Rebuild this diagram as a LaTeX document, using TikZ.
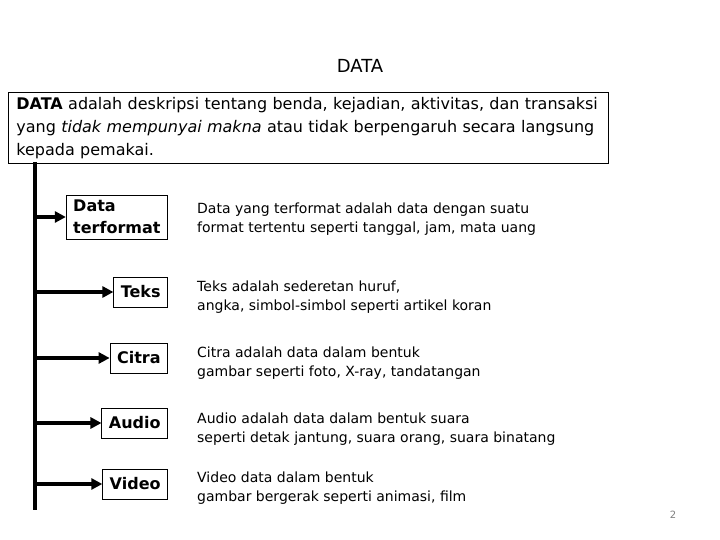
\documentclass[tikz,border=0pt]{standalone}
\usepackage{fontspec}
\setmainfont{DejaVu Sans}
\usetikzlibrary{arrows.meta}

\tikzset{
  kind/.style={draw, line width=0.8pt, inner xsep=7pt, inner ysep=5pt, minimum height=30pt, font=\fontsize{16}{22}\selectfont\bfseries, align=left},
  desc/.style={anchor=base west, inner sep=0pt, font=\fontsize{14}{19}\selectfont, align=left},
  feed/.style={line width=3.5pt, -{Triangle[length=11pt,width=11pt]}}
}

\begin{document}
\begin{tikzpicture}[x=1pt,y=-1pt]
\useasboundingbox (0,0) rectangle (720,540);

\node[font=\fontsize{18}{21}\selectfont] (title) at (360,66) {DATA};

\node[draw, line width=0.8pt, anchor=north west, text width=584pt, inner xsep=8pt, inner ysep=5pt, align=left,
  font=\fontsize{16}{23}\selectfont] (defbox) at (8,92)
  {\textbf{DATA} adalah deskripsi tentang benda, kejadian, aktivitas, dan transaksi\\
   yang \textit{tidak mempunyai makna} atau tidak berpengaruh secara langsung\\
   kepada pemakai.};

% batang kiri
\coordinate (top) at (35,162);
\coordinate (bot) at (35,510);
\draw[line width=3.5pt] (top) -- (bot);

% jenis data
\node[kind, anchor=east] (fmt) at (168,217) {Data\\terformat};
\node[kind, anchor=east] (teks) at (168,292) {Teks};
\node[kind, anchor=east] (citra) at (168,358) {Citra};
\node[kind, anchor=east] (audio) at (168,423) {Audio};
\node[kind, anchor=east] (video) at (168,484) {Video};

\draw[feed] (top |- fmt.west) -- (fmt.west);
\draw[feed] (top |- teks.west) -- (teks.west);
\draw[feed] (top |- citra.west) -- (citra.west);
\draw[feed] (top |- audio.west) -- (audio.west);
\draw[feed] (top |- video.west) -- (video.west);

% keterangan
\node[desc] (dfmt) at (197,233) {Data yang terformat adalah data dengan suatu\\format tertentu seperti tanggal, jam, mata uang};
\node[desc] (dteks) at (197,310) {Teks adalah sederetan huruf,\\angka, simbol-simbol seperti artikel koran};
\node[desc] (dcitra) at (197,376) {Citra adalah data dalam bentuk\\gambar seperti foto, X-ray, tandatangan};
\node[desc] (daudio) at (197,442) {Audio adalah data dalam bentuk suara\\seperti detak jantung, suara orang, suara binatang};
\node[desc] (dvideo) at (197,501) {Video data dalam bentuk\\gambar bergerak seperti animasi, film};

\node[font=\fontsize{10}{12}\selectfont, text=gray] (page) at (673,515) {2};
\end{tikzpicture}
\end{document}
